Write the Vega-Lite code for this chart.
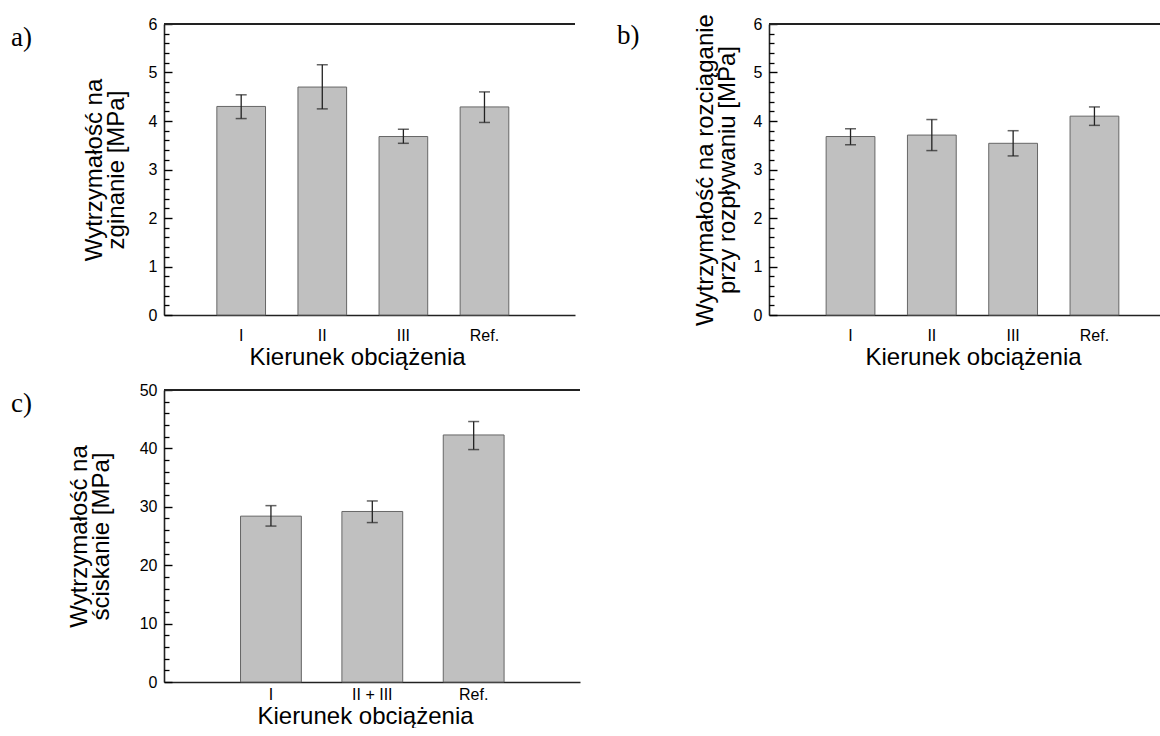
{
  "$schema": "https://vega.github.io/schema/vega-lite/v6.json",
  "background": "white",
  "padding": {"left": 11, "top": 13, "right": 0, "bottom": 0},
  "config": {
    "view": {"stroke": null},
    "font": "Liberation Sans",
    "axis": {
      "labelFont": "Liberation Sans", "titleFont": "Liberation Sans",
      "labelColor": "#000", "titleColor": "#000",
      "domainColor": "#222", "tickColor": "#000", "tickOpacity": 1,
      "grid": false, "titleFontWeight": "normal",
      "labelFontSize": 16, "titleFontSize": 24
    },
    "title": {"font": "Liberation Serif", "fontSize": 27, "fontWeight": "normal", "anchor": "start", "frame": "group", "color": "#000"}
  },
  "datasets": {
    "a": [
      {"dir": "I", "v": 4.30, "lo": 4.05, "hi": 4.54},
      {"dir": "II", "v": 4.70, "lo": 4.25, "hi": 5.16},
      {"dir": "III", "v": 3.68, "lo": 3.54, "hi": 3.83},
      {"dir": "Ref.", "v": 4.29, "lo": 3.97, "hi": 4.60}
    ],
    "b": [
      {"dir": "I", "v": 3.68, "lo": 3.51, "hi": 3.84},
      {"dir": "II", "v": 3.71, "lo": 3.39, "hi": 4.03},
      {"dir": "III", "v": 3.54, "lo": 3.28, "hi": 3.80},
      {"dir": "Ref.", "v": 4.10, "lo": 3.91, "hi": 4.29}
    ],
    "c": [
      {"dir": "I", "v": 28.4, "lo": 26.7, "hi": 30.2},
      {"dir": "II + III", "v": 29.2, "lo": 27.3, "hi": 31.0},
      {"dir": "Ref.", "v": 42.3, "lo": 39.8, "hi": 44.6}
    ]
  },
  "columns": 2,
  "align": "none",
  "bounds": "flush",
  "spacing": {"row": 75, "column": 189},
  "concat": [
    {
      "width": 411, "height": 291,
      "title": {"text": "a)", "dx": -153, "dy": 40},
      "data": {"name": "a"},
      "layer": [
        {
          "mark": {"type": "bar", "fill": "#c0c0c0", "stroke": "#666", "strokeWidth": 1},
          "encoding": {
            "x": {"field": "dir", "type": "nominal", "sort": null,
              "scale": {"paddingInner": 0.4, "paddingOuter": 0.734, "align": 0.444},
              "axis": {"title": "Kierunek obciążenia", "titleX": 193, "labelAngle": 0, "ticks": false, "tickSize": 0, "domainWidth": 1.6, "labelPadding": 12, "titlePadding": 2}},
            "y": {"field": "v", "type": "quantitative", "scale": {"domain": [0, 6], "nice": false},
              "axis": {"orient": "left", "title": ["Wytrzymałość na", "zginanie [MPa]"], "values": [0, 1, 2, 3, 4, 5, 6], "format": "d", "ticks": false, "tickSize": 0, "domainWidth": 1.6, "labelPadding": 7, "titlePadding": 20, "titleLineHeight": 22}}
          }
        },
        {
          "mark": {"type": "rule", "color": "#222", "strokeWidth": 1.3},
          "encoding": {
            "x": {"field": "dir", "type": "nominal", "sort": null},
            "y": {"field": "lo", "type": "quantitative",
              "axis": {"orient": "left", "title": null, "values": [0, 1, 2, 3, 4, 5, 6], "labels": false, "domain": false, "ticks": true, "tickSize": 8, "offset": -8, "tickWidth": 1.4, "tickColor": "black"}},
            "y2": {"field": "hi"}
          }
        },
        {
          "mark": {"type": "tick", "color": "#222", "thickness": 1.5, "size": 11},
          "encoding": {
            "x": {"field": "dir", "type": "nominal", "sort": null},
            "y": {"field": "lo", "type": "quantitative",
              "axis": {"orient": "left", "title": null, "values": [0.2, 0.4, 0.6, 0.8, 1.2, 1.4, 1.6, 1.8, 2.2, 2.4, 2.6, 2.8, 3.2, 3.4, 3.6, 3.8, 4.2, 4.4, 4.6, 4.8, 5.2, 5.4, 5.6, 5.8], "labels": false, "domain": false, "ticks": true, "tickSize": 5, "offset": -5, "tickWidth": 1.3, "tickColor": "black"}}
          }
        },
        {
          "mark": {"type": "tick", "color": "#222", "thickness": 1.5, "size": 11},
          "encoding": {
            "x": {"field": "dir", "type": "nominal", "sort": null},
            "y": {"field": "hi", "type": "quantitative", "axis": null}
          }
        },
        {
          "mark": {"type": "rule", "color": "#222", "strokeWidth": 1.8},
          "encoding": {"y": {"datum": 6, "type": "quantitative", "axis": null}}
        }
      ],
      "resolve": {"axis": {"y": "independent"}}
    },
    {
      "width": 394, "height": 291,
      "title": {"text": "b)", "dx": -152, "dy": 40},
      "data": {"name": "b"},
      "layer": [
        {
          "mark": {"type": "bar", "fill": "#c0c0c0", "stroke": "#666", "strokeWidth": 1},
          "encoding": {
            "x": {"field": "dir", "type": "nominal", "sort": null,
              "scale": {"paddingInner": 0.4, "paddingOuter": 0.623, "align": 0.564},
              "axis": {"title": "Kierunek obciążenia", "titleX": 204, "labelAngle": 0, "ticks": false, "tickSize": 0, "domainWidth": 1.6, "labelPadding": 12, "titlePadding": 2}},
            "y": {"field": "v", "type": "quantitative", "scale": {"domain": [0, 6], "nice": false},
              "axis": {"orient": "left", "title": ["Wytrzymałość na rozciąganie", "przy rozpływaniu [MPa]"], "values": [0, 1, 2, 3, 4, 5, 6], "format": "d", "ticks": false, "tickSize": 0, "domainWidth": 1.6, "labelPadding": 7, "titlePadding": 14, "titleLineHeight": 22}}
          }
        },
        {
          "mark": {"type": "rule", "color": "#222", "strokeWidth": 1.3},
          "encoding": {
            "x": {"field": "dir", "type": "nominal", "sort": null},
            "y": {"field": "lo", "type": "quantitative",
              "axis": {"orient": "left", "title": null, "values": [0, 1, 2, 3, 4, 5, 6], "labels": false, "domain": false, "ticks": true, "tickSize": 8, "offset": -8, "tickWidth": 1.4, "tickColor": "black"}},
            "y2": {"field": "hi"}
          }
        },
        {
          "mark": {"type": "tick", "color": "#222", "thickness": 1.5, "size": 11},
          "encoding": {
            "x": {"field": "dir", "type": "nominal", "sort": null},
            "y": {"field": "lo", "type": "quantitative",
              "axis": {"orient": "left", "title": null, "values": [0.2, 0.4, 0.6, 0.8, 1.2, 1.4, 1.6, 1.8, 2.2, 2.4, 2.6, 2.8, 3.2, 3.4, 3.6, 3.8, 4.2, 4.4, 4.6, 4.8, 5.2, 5.4, 5.6, 5.8], "labels": false, "domain": false, "ticks": true, "tickSize": 5, "offset": -5, "tickWidth": 1.3, "tickColor": "black"}}
          }
        },
        {
          "mark": {"type": "tick", "color": "#222", "thickness": 1.5, "size": 11},
          "encoding": {
            "x": {"field": "dir", "type": "nominal", "sort": null},
            "y": {"field": "hi", "type": "quantitative", "axis": null}
          }
        },
        {
          "mark": {"type": "rule", "color": "#222", "strokeWidth": 1.8},
          "encoding": {"y": {"datum": 6, "type": "quantitative", "axis": null}}
        }
      ],
      "resolve": {"axis": {"y": "independent"}}
    },
    {
      "width": 416, "height": 292,
      "title": {"text": "c)", "dx": -153, "dy": 40},
      "data": {"name": "c"},
      "layer": [
        {
          "mark": {"type": "bar", "fill": "#c0c0c0", "stroke": "#666", "strokeWidth": 1},
          "encoding": {
            "x": {"field": "dir", "type": "nominal", "sort": null,
              "scale": {"paddingInner": 0.4, "paddingOuter": 0.752, "align": 0.502},
              "axis": {"title": "Kierunek obciążenia", "titleX": 201, "labelAngle": 0, "ticks": false, "tickSize": 0, "domainWidth": 1.6, "labelPadding": 4, "titlePadding": 2}},
            "y": {"field": "v", "type": "quantitative", "scale": {"domain": [0, 50], "nice": false},
              "axis": {"orient": "left", "title": ["Wytrzymałość na", "ściskanie [MPa]"], "values": [0, 10, 20, 30, 40, 50], "format": "d", "ticks": false, "tickSize": 0, "domainWidth": 1.6, "labelPadding": 7, "titlePadding": 26, "titleLineHeight": 22}}
          }
        },
        {
          "mark": {"type": "rule", "color": "#222", "strokeWidth": 1.3},
          "encoding": {
            "x": {"field": "dir", "type": "nominal", "sort": null},
            "y": {"field": "lo", "type": "quantitative",
              "axis": {"orient": "left", "title": null, "values": [0, 10, 20, 30, 40, 50], "labels": false, "domain": false, "ticks": true, "tickSize": 8, "offset": -8, "tickWidth": 1.4, "tickColor": "black"}},
            "y2": {"field": "hi"}
          }
        },
        {
          "mark": {"type": "tick", "color": "#222", "thickness": 1.5, "size": 11},
          "encoding": {
            "x": {"field": "dir", "type": "nominal", "sort": null},
            "y": {"field": "lo", "type": "quantitative",
              "axis": {"orient": "left", "title": null, "values": [2, 4, 6, 8, 12, 14, 16, 18, 22, 24, 26, 28, 32, 34, 36, 38, 42, 44, 46, 48], "labels": false, "domain": false, "ticks": true, "tickSize": 5, "offset": -5, "tickWidth": 1.3, "tickColor": "black"}}
          }
        },
        {
          "mark": {"type": "tick", "color": "#222", "thickness": 1.5, "size": 11},
          "encoding": {
            "x": {"field": "dir", "type": "nominal", "sort": null},
            "y": {"field": "hi", "type": "quantitative", "axis": null}
          }
        },
        {
          "mark": {"type": "rule", "color": "#222", "strokeWidth": 1.8},
          "encoding": {"y": {"datum": 50, "type": "quantitative", "axis": null}}
        }
      ],
      "resolve": {"axis": {"y": "independent"}}
    }
  ]
}
